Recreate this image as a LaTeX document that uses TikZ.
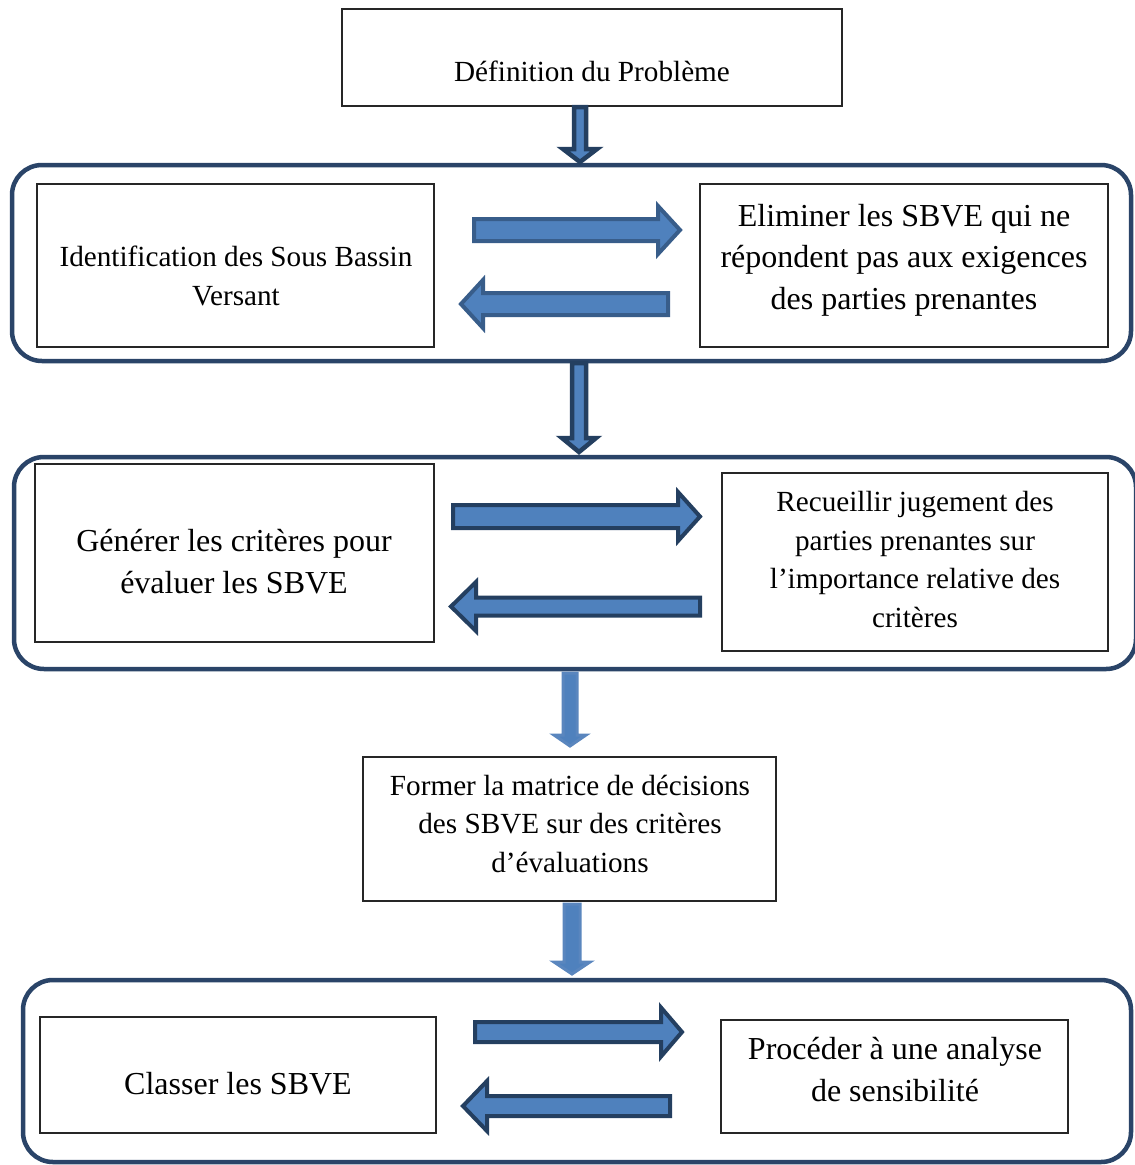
\documentclass[tikz,border=0pt]{standalone}
\usepackage{fontspec}
\setmainfont{Liberation Serif}
\definecolor{frameblue}{HTML}{2A4468}
\definecolor{arrowfill}{HTML}{4F81BD}
\definecolor{arrowline}{HTML}{385D8A}
\definecolor{arrowdark}{HTML}{243F60}
\definecolor{arrowlight}{HTML}{5A86BE}
\newcommand\harr[7]{\filldraw[#1] (#2,#4-#5) -- (#7,#4-#5) -- (#7,#4-#6) -- (#3,#4) -- (#7,#4+#6) -- (#7,#4+#5) -- (#2,#4+#5) -- cycle;}
\newcommand\varr[7]{\filldraw[#1] (#2-#5,#3) -- (#2+#5,#3) -- (#2+#5,#7) -- (#2+#6,#7) -- (#2,#4) -- (#2-#6,#7) -- (#2-#5,#7) -- cycle;}
\begin{document}
\begin{tikzpicture}[x=1pt,y=-1pt,
  box/.style={draw=black!85, line width=1.2pt},
  frame/.style={draw=frameblue, line width=4.5pt, rounded corners=30pt},
  small/.style={font=\fontsize{29.2pt}{38.5pt}\selectfont, align=center, anchor=base, inner sep=0pt},
  big/.style={font=\fontsize{32pt}{41.5pt}\selectfont, align=center, anchor=base, inner sep=0pt},
  ha/.style={fill=arrowfill, draw=arrowline, line width=4pt, line join=miter},
  hb/.style={fill=arrowfill, draw=arrowdark, line width=4pt, line join=miter},
  va/.style={fill=arrowfill, draw=arrowdark, line width=4.5pt, line join=miter},
  vl/.style={fill=arrowfill, draw=arrowlight, line width=3pt, line join=miter}]
\useasboundingbox (0,0) rectangle (1135,1165);
\fill[white] (0,0) rectangle (1135,1165);

% frames
\draw[frame] (12,165) rectangle (1131,361);
\draw[frame] (14,457) rectangle (1136,669);
\draw[frame] (23,980) rectangle (1131,1162);

% boxes
\draw[box] (342,9) rectangle (842,106);
\draw[box] (37,184) rectangle (434,347);
\draw[box] (700,184) rectangle (1108,347);
\draw[box] (35,464) rectangle (434,642);
\draw[box] (722,473) rectangle (1108,651);
\draw[box] (363,757) rectangle (776,901);
\draw[box] (40,1017) rectangle (436,1133);
\draw[box] (721,1020) rectangle (1068,1133);

% texts (anchor = baseline of the last line)
\node[small] (t0) at (592,81) {Définition du Problème};
\node[small] (t1l) at (236,305) {Identification des Sous Bassin\\Versant};
\node[big] (t1r) at (904,309) {Eliminer les SBVE qui ne\\répondent pas aux exigences\\des parties prenantes};
\node[big] (t2l) at (234,593) {Générer les critères pour\\évaluer les SBVE};
\node[small] (t2r) at (915,627) {Recueillir jugement des\\parties prenantes sur\\l’importance relative des\\critères};
\node[small] (tm) at (570,872) {Former la matrice de décisions\\des SBVE sur des critères\\d’évaluations};
\node[big] (t3l) at (238,1094) {Classer les SBVE};
\node[big] (t3r) at (895,1101) {Procéder à une analyse\\de sensibilité};

% horizontal block arrows
\harr{ha}{474}{680}{230}{11}{24}{658}
\harr{ha}{668}{461}{304}{11}{24}{483}
\harr{hb}{453}{700}{516.5}{11.5}{24.5}{678}
\harr{hb}{700}{451}{606.5}{9}{24.5}{476}
\harr{hb}{475}{682}{1032}{10}{24.5}{661}
\harr{hb}{670}{463}{1106}{10}{25}{487}

% vertical block arrows
\varr{va}{580}{107}{162}{6}{17}{149}
\varr{va}{579}{363}{452}{7}{17}{438}
\varr{vl}{570}{673}{746}{7}{16}{735}
\varr{vl}{572}{904}{974}{8}{18}{962}
\end{tikzpicture}
\end{document}
